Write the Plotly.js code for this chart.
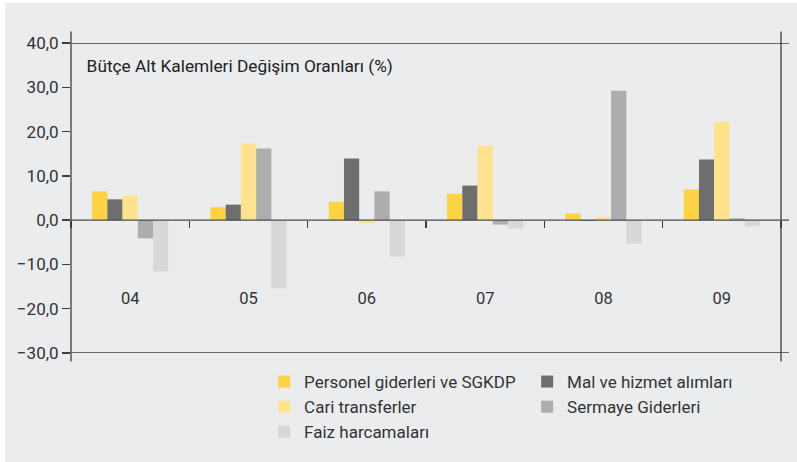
<!DOCTYPE html>
<html>
<head>
<meta charset="utf-8">
<script src="https://cdn.plot.ly/plotly-3.0.1.min.js"></script>
<style>
  html, body { margin: 0; padding: 0; background: #ffffff; }
  #chart { position: absolute; left: 5px; top: 3px; width: 792px; height: 459px; }
</style>
</head>
<body>
<div id="chart"></div>
<script>
const categories = ['04', '05', '06', '07', '08', '09'];
const seriesNames = ['Personel giderleri ve SGKDP', 'Mal ve hizmet alımları', 'Cari transferler', 'Sermaye Giderleri', 'Faiz harcamaları'];
const personel = [6.5, 2.9, 4.2, 6.0, 1.5, 6.9];
const malHizmet = [4.7, 3.5, 13.9, 7.8, -0.2, 13.7];
const cariTransfer = [5.6, 17.3, -0.7, 16.8, 0.7, 22.3];
const sermaye = [-4.1, 16.2, 6.5, -1.0, 29.2, 0.4];
const faiz = [-11.6, -15.4, -8.2, -1.9, -5.3, -1.4];
const yTicks = [-30, -20, -10, 0, 10, 20, 30, 40];
const chartTitle = 'Bütçe Alt Kalemleri Değişim Oranları (%)';

const colors = ['#fdd341', '#6e6e6e', '#fee38c', '#adadad', '#d7d8da'];
const seriesValues = [personel, malHizmet, cariTransfer, sermaye, faiz];

const traces = seriesValues.map((vals, i) => ({
  type: 'bar',
  name: seriesNames[i],
  x: categories,
  y: vals,
  marker: { color: colors[i], line: { width: 0 } },
  hoverinfo: 'skip'
}));

const W = 710, H = 310;
const lineStyle = { color: '#3d3d3d', width: 1.3 };
const shapes = [
  { type: 'line', xref: 'paper', yref: 'paper', x0: 0, x1: 0, y0: -8.5 / H, y1: 1 + 11.5 / H, line: lineStyle },
  { type: 'line', xref: 'paper', yref: 'paper', x0: 1, x1: 1, y0: -8.5 / H, y1: 1 + 11.5 / H, line: lineStyle },
  { type: 'line', xref: 'paper', yref: 'y', x0: 0, x1: 1 + 8 / W, y0: 40, y1: 40, line: lineStyle },
  { type: 'line', xref: 'paper', yref: 'y', x0: 0, x1: 1 + 8 / W, y0: -30, y1: -30, line: lineStyle },
  { type: 'line', xref: 'paper', yref: 'y', x0: 0, x1: 1 + 8 / W, y0: 0, y1: 0, line: { color: '#4a4a4a', width: 1.3 } }
];

const layout = {
  width: 792,
  height: 459,
  paper_bgcolor: '#ebecee',
  plot_bgcolor: 'rgba(0,0,0,0)',
  separators: ',.',
  font: { family: 'Roboto, sans-serif', color: '#333333', size: 16 },
  margin: { l: 66, r: 16, t: 40, b: 109, autoexpand: false },
  barmode: 'group',
  bargap: 0.356,
  bargroupgap: 0,
  showlegend: true,
  title: {
    text: chartTitle,
    font: { family: 'Roboto, sans-serif', size: 17.3, color: '#222222' },
    xref: 'paper', yref: 'paper',
    x: 0.022, y: 0.927,
    xanchor: 'left', yanchor: 'middle'
  },
  xaxis: {
    type: 'category',
    anchor: 'free',
    position: 30 / 70,
    showline: false,
    showgrid: false,
    zeroline: false,
    tickson: 'boundaries',
    ticks: 'outside',
    ticklen: 7,
    tickwidth: 1.3,
    tickcolor: '#3d3d3d',
    ticklabelstandoff: 66,
    tickfont: { size: 16.5, color: '#333333' },
    fixedrange: true
  },
  yaxis: {
    range: [-30, 40],
    tickvals: yTicks,
    tickformat: '.1f',
    showline: false,
    showgrid: false,
    zeroline: false,
    ticks: 'outside',
    ticklen: 8,
    tickwidth: 1.3,
    tickcolor: '#3d3d3d',
    tickfont: { size: 17, color: '#333333' },
    fixedrange: true
  },
  legend: {
    orientation: 'h',
    x: 0.272,
    xanchor: 'left',
    y: -0.0355,
    yanchor: 'top',
    entrywidth: 218,
    entrywidthmode: 'pixels',
    bgcolor: 'rgba(0,0,0,0)',
    font: { family: 'Roboto, sans-serif', size: 17, color: '#333333' },
    traceorder: 'normal'
  },
  shapes: shapes
};

Plotly.newPlot('chart', traces, layout, { displayModeBar: false, staticPlot: true });
</script>
</body>
</html>
